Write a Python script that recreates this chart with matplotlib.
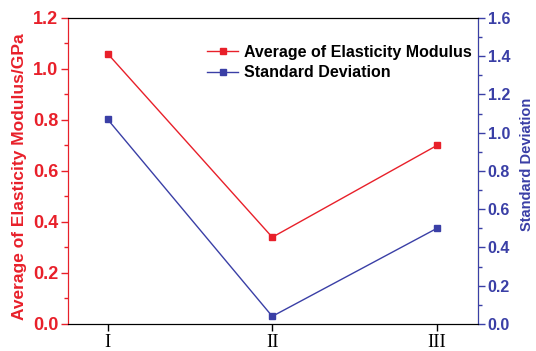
import matplotlib.pyplot as plt
from matplotlib.ticker import MultipleLocator

# Datos
grupos = ["I", "II", "III"]
modulo_medio = [1.06, 0.34, 0.70]
desviacion = [1.07, 0.04, 0.50]

rojo = "#e8202a"
azul = "#3a3fa6"

plt.rcParams["font.family"] = ["Liberation Sans", "DejaVu Sans"]

fig = plt.figure(figsize=(5.36, 3.51), dpi=100)
ax = fig.add_axes([0.127, 0.077, 0.765, 0.872])
ax2 = ax.twinx()

x = list(range(len(grupos)))
l1, = ax.plot(x, modulo_medio, color=rojo, marker="s", markersize=4, lw=1,
              label="Average of Elasticity Modulus")
l2, = ax2.plot(x, desviacion, color=azul, marker="s", markersize=4, lw=1,
               label="Standard Deviation")

ax.set_xlim(-0.24, 2.25)
ax.set_ylim(0, 1.2)
ax2.set_ylim(0, 1.6)

ax.set_xticks(x)
ax.set_xticklabels(grupos, family="Liberation Serif", fontsize=13.5)

#Eje izquierdo
ax.yaxis.set_major_locator(MultipleLocator(0.2))
ax.yaxis.set_minor_locator(MultipleLocator(0.1))
ax.tick_params(axis="y", colors=rojo, labelsize=13, which="both", direction="out", pad=2)
ax.tick_params(axis="y", which="major", length=5, width=1)
ax.tick_params(axis="y", which="minor", length=3, width=1)
for t in ax.get_yticklabels():
    t.set_fontweight("bold")
ax.set_ylabel("Average of Elasticity Modulus/GPa", color=rojo, fontsize=12.5,
              fontweight="bold", labelpad=4)
ax.yaxis.label.set_y(0.48)
ax.spines["left"].set_color(rojo)

#Eje derecho
ax2.yaxis.set_major_locator(MultipleLocator(0.2))
ax2.yaxis.set_minor_locator(MultipleLocator(0.1))
ax2.tick_params(axis="y", colors=azul, labelsize=11.5, which="both", direction="out", pad=2)
ax2.tick_params(axis="y", which="major", length=5, width=1)
ax2.tick_params(axis="y", which="minor", length=3, width=1)
for t in ax2.get_yticklabels():
    t.set_fontweight("bold")
ax2.set_ylabel("Standard Deviation", color=azul, fontsize=10.5,
               fontweight="bold", labelpad=7)
ax2.yaxis.label.set_y(0.52)
ax2.spines["right"].set_color(azul)
ax2.spines["left"].set_color(rojo)

ax.tick_params(axis="x", direction="out", length=5, width=1, pad=2)

ax2.legend([l1, l2], [l1.get_label(), l2.get_label()], loc="upper right",
           frameon=False, prop={"weight": "bold", "size": 11.5},
           handlelength=1.9, handletextpad=0.4, borderaxespad=0.5,
           labelspacing=0.35, bbox_to_anchor=(1.02, 0.96))

plt.savefig("out.png", dpi=100)
